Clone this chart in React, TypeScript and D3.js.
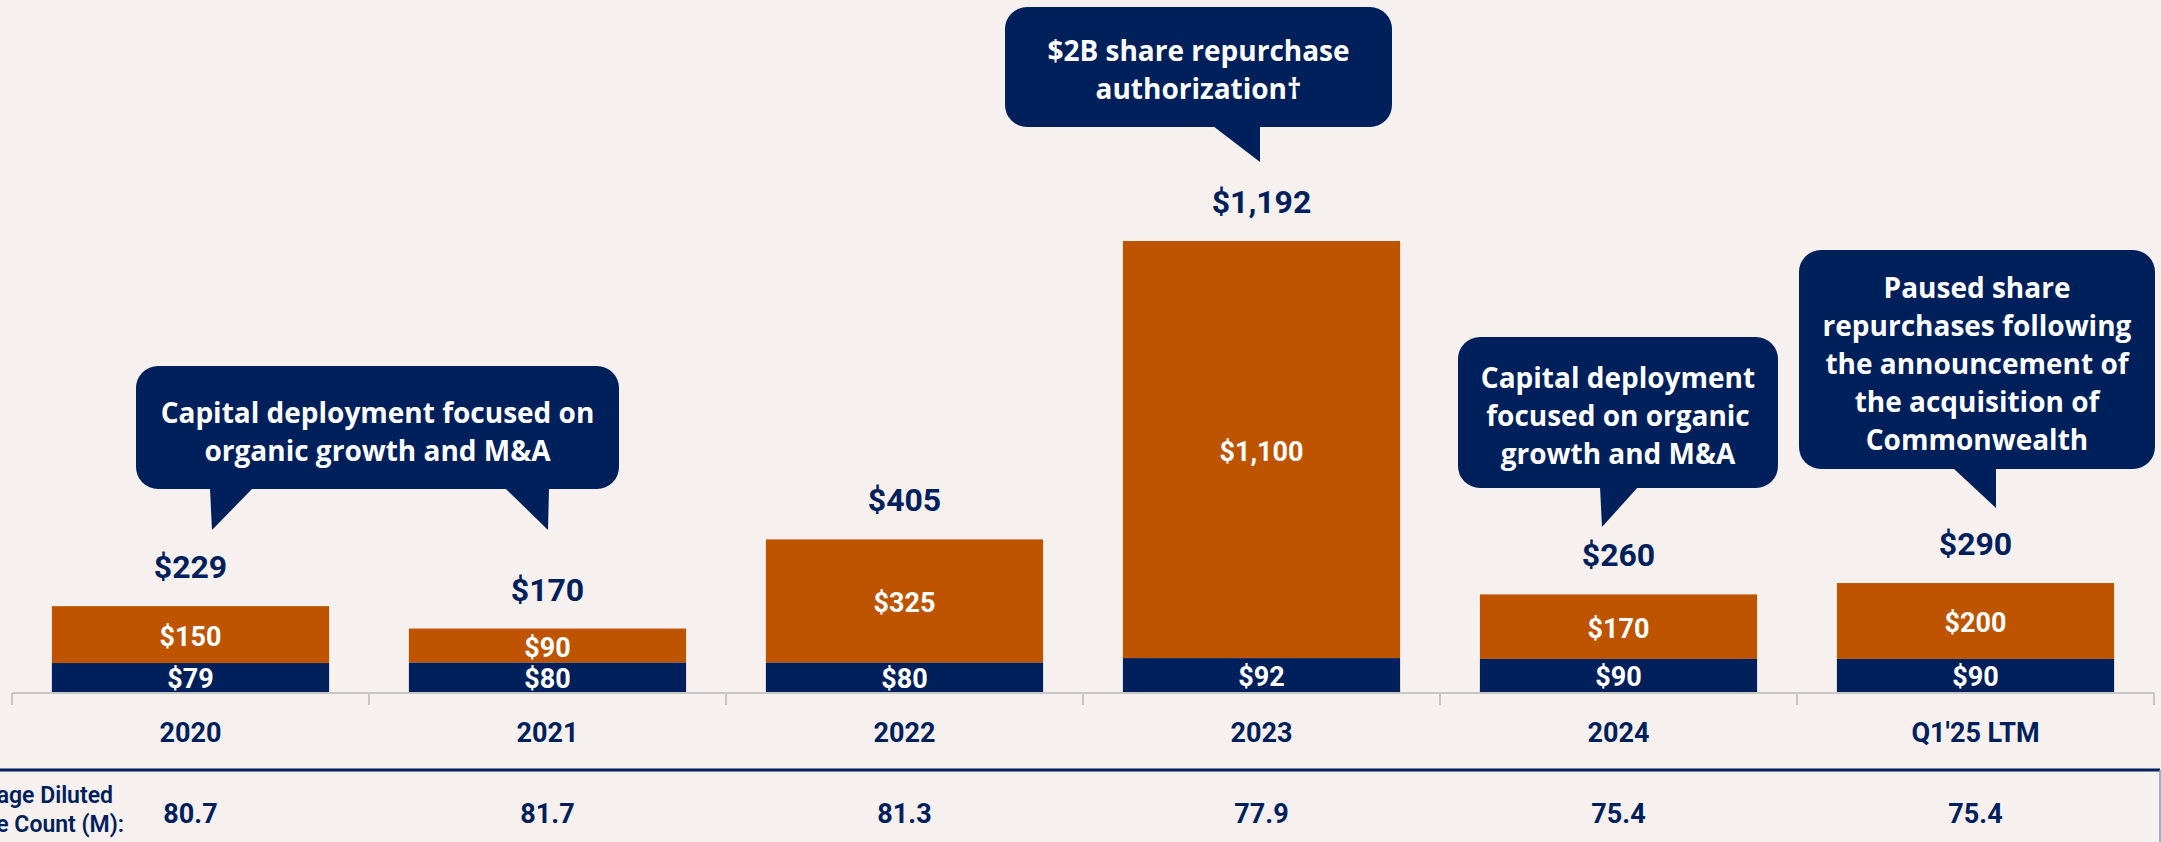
import React from 'react';
import * as d3 from 'd3';

const categories = ['2020', '2021', '2022', '2023', '2024', "Q1'25 LTM"];
const baseValues = [79, 80, 80, 92, 90, 90];
const buybackValues = [150, 90, 325, 1100, 170, 200];
const totalLabels = ['$229', '$170', '$405', '$1,192', '$260', '$290'];
const shareCounts = ['80.7', '81.7', '81.3', '77.9', '75.4', '75.4'];

const W = 2161;
const H = 842;
const NAVY = '#00205B';
const ORANGE = '#BE5400';
const BG = '#F6F1EE';
const NUM_FONT = 'Roboto, "Liberation Sans", sans-serif';
const NOTE_FONT = '"Open Sans", Lato, sans-serif';

// callout boxes: rect + pointer triangles (base-left, base-right, tip)
const callouts = [
  {
    x: 136, y: 366, w: 483, h: 123,
    lines: ['Capital deployment focused on', 'organic growth and M&A'],
    textY: 412,
    pointers: [
      [[210, 489], [252, 489], [212, 530]],
      [[506, 489], [549, 489], [548, 530]],
    ],
  },
  {
    x: 1005, y: 7, w: 387, h: 120,
    lines: ['$2B share repurchase', 'authorization\u2020'],
    textY: 50,
    pointers: [[[1213, 126], [1260, 126], [1260, 162]]],
  },
  {
    x: 1458, y: 337, w: 320, h: 151,
    lines: ['Capital deployment', 'focused on organic', 'growth and M&A'],
    textY: 377,
    pointers: [[[1600, 487], [1638, 487], [1602, 527]]],
  },
  {
    x: 1799, y: 250, w: 356, h: 219,
    lines: ['Paused share', 'repurchases following', 'the announcement of', 'the acquisition of', 'Commonwealth'],
    textY: 287,
    pointers: [[[1953, 468], [1996, 468], [1996, 508]]],
  },
];

export default function App() {
  const x = d3.scaleBand<string>()
    .domain(categories)
    .range([12, 2154])
    .paddingInner(0.2235)
    .paddingOuter(0.2235 / 2);

  const y = d3.scaleLinear().domain([0, 1192]).range([693, 241]);
  const step = x.step();
  const bw = x.bandwidth();
  const ticks = d3.range(categories.length + 1).map(i => 12 + i * step);

  return (
    <div style={{ position: 'fixed', left: 0, top: 0 }}>
      <svg width={W} height={H} style={{ display: 'block' }}>
        <rect width={W} height={H} fill={BG} />

        {/* bars */}
        {categories.map((c, i) => {
          const x0 = x(c) as number;
          const base = baseValues[i];
          const top = base + buybackValues[i];
          const cx = x0 + bw / 2;
          return (
            <g key={c}>
              <rect x={x0} y={y(top)} width={bw} height={y(base) - y(top)} fill={ORANGE} />
              <rect x={x0} y={y(base)} width={bw} height={y(0) - y(base)} fill={NAVY} />
              <text x={cx} y={(y(base) + y(top)) / 2 + 2} fill="#fff" textAnchor="middle"
                dominantBaseline="central" fontFamily={NUM_FONT} fontWeight={700} fontSize={27}>
                {'$' + d3.format(',')(buybackValues[i])}
              </text>
              <text x={cx} y={(y(0) + y(base)) / 2 + 1} fill="#fff" textAnchor="middle"
                dominantBaseline="central" fontFamily={NUM_FONT} fontWeight={700} fontSize={27}>
                {'$' + base}
              </text>
              <text x={cx} y={y(top) - 39} fill={NAVY} textAnchor="middle"
                dominantBaseline="central" fontFamily={NUM_FONT} fontWeight={700} fontSize={32}>
                {totalLabels[i]}
              </text>
              <text x={cx} y={733} fill={NAVY} textAnchor="middle"
                dominantBaseline="central" fontFamily={NUM_FONT} fontWeight={700} fontSize={27}>
                {c}
              </text>
              <text x={cx} y={814} fill={NAVY} textAnchor="middle"
                dominantBaseline="central" fontFamily={NUM_FONT} fontWeight={700} fontSize={27}>
                {shareCounts[i]}
              </text>
            </g>
          );
        })}

        {/* axis */}
        <line x1={ticks[0]} x2={ticks[ticks.length - 1]} y1={y(0)} y2={y(0)} stroke="#c6c6c6" strokeWidth={2} />
        {ticks.map((t, i) => (
          <line key={i} x1={t} x2={t} y1={y(0)} y2={y(0) + 12} stroke="#c6c6c6" strokeWidth={2} />
        ))}

        {/* share count table */}
        <line x1={0} x2={2160} y1={770} y2={770} stroke={NAVY} strokeWidth={3} />
        <line x1={2160} x2={2160} y1={770} y2={H} stroke="#8a96b0" strokeWidth={1.5} />
        <text x={113} y={795} fill={NAVY} textAnchor="end" dominantBaseline="central"
          fontFamily={NUM_FONT} fontWeight={600} fontSize={23}>Average Diluted</text>
        <text x={124} y={824} fill={NAVY} textAnchor="end" dominantBaseline="central"
          fontFamily={NUM_FONT} fontWeight={600} fontSize={23}>Share Count (M):</text>

        {/* callouts */}
        {callouts.map((co, k) => (
          <g key={k}>
            <rect x={co.x} y={co.y} width={co.w} height={co.h} rx={22} fill={NAVY} />
            {co.pointers.map((p, j) => (
              <path key={j} d={d3.line()(p as [number, number][]) + 'Z'} fill={NAVY} />
            ))}
            {co.lines.map((l, j) => (
              <text key={j} x={co.x + co.w / 2} y={co.textY + j * 38} fill="#fff" textAnchor="middle"
                dominantBaseline="central" fontFamily={NOTE_FONT} fontWeight={700} fontSize={28}>
                {l}
              </text>
            ))}
          </g>
        ))}
      </svg>
    </div>
  );
}
